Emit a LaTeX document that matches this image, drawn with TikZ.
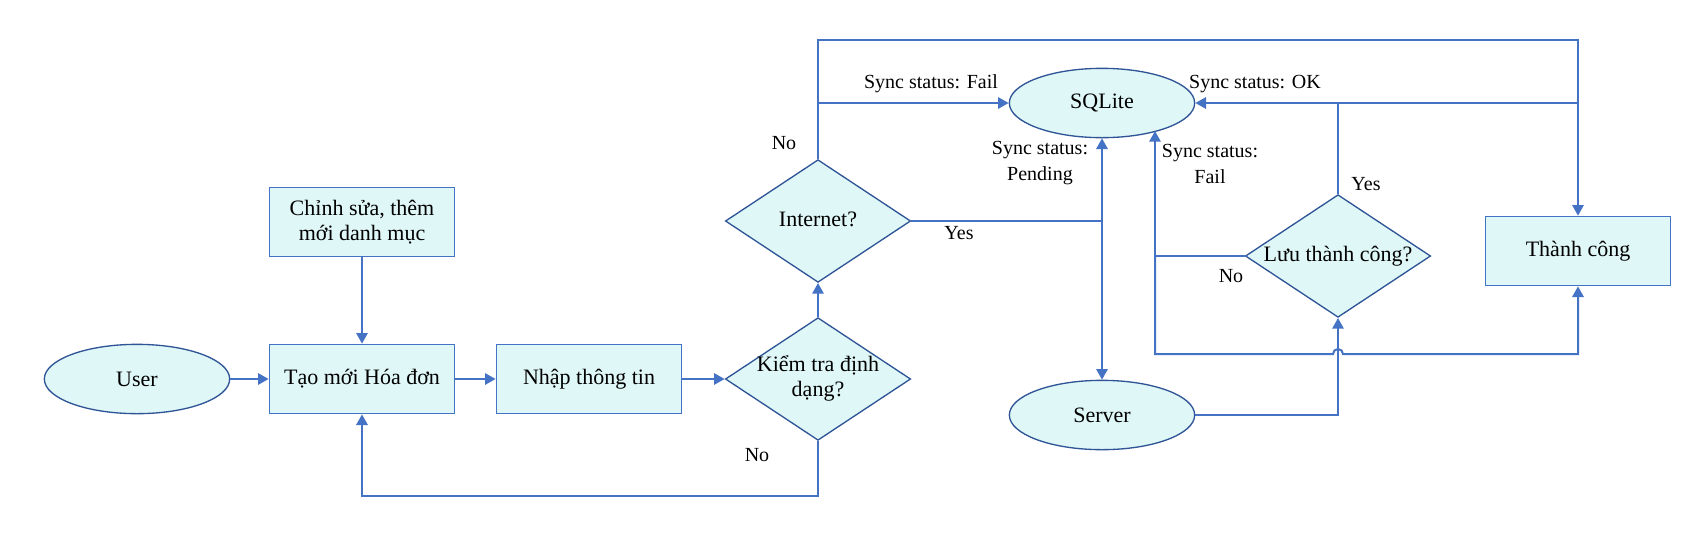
\documentclass[tikz,border=0pt]{standalone}
\usepackage{fontspec}
\setmainfont{Liberation Serif}
\usetikzlibrary{shapes.geometric,arrows.meta}

\definecolor{linkblue}{RGB}{68,114,196}
\definecolor{darkrim}{RGB}{47,85,151}
\definecolor{paleaqua}{RGB}{224,247,247}

\newcommand{\diatext}[1]{\makebox[0pt]{\begin{tabular}{@{}c@{}}#1\end{tabular}}}

\tikzset{every picture/.style={line width=0.75pt}}
\tikzset{
  procbox/.style={draw=linkblue, line width=1pt, fill=paleaqua, minimum width=139pt, minimum height=52pt, align=center, font=\fontsize{16.5}{19}\selectfont},
  termoval/.style={ellipse, draw=darkrim, line width=1pt, fill=paleaqua, minimum width=139pt, minimum height=52pt, font=\fontsize{16.5}{19}\selectfont},
  decide/.style={diamond, draw=darkrim, line width=1pt, fill=paleaqua, minimum width=139pt, minimum height=92pt, inner sep=0pt, font=\fontsize{16.5}{19}\selectfont},
  conn/.style={draw=linkblue, line width=1.5pt},
  tip/.style={-{Triangle[length=8pt,width=8.5pt]}},
  flowlabel/.style={inner sep=0pt, align=center, font=\fontsize{15}{19}\selectfont},
}

\begin{document}
\begin{tikzpicture}[x=0.75pt,y=0.75pt,yscale=-1,xscale=1]
	\useasboundingbox (0,0) rectangle (1708,544);

	%Shape: Ellipse [id:user]
	\node [termoval] (user) at (137,379) {User};
	%Shape: Rectangle [id:tao]
	\node [procbox] (tao) at (362,379) {Tạo mới Hóa đơn};
	%Shape: Rectangle [id:chinh]
	\node [procbox] (chinh) at (362,222) {Chỉnh sửa, thêm\\mới danh mục};
	%Shape: Rectangle [id:nhap]
	\node [procbox] (nhap) at (589,379) {Nhập thông tin};
	%Shape: Diamond [id:kiem]
	\node [decide] (kiem) at (818,379) {\diatext{Kiểm tra định\\dạng?}};
	%Shape: Diamond [id:inet]
	\node [decide] (inet) at (818,221) {\diatext{Internet?}};
	%Shape: Ellipse [id:sqlite]
	\node [termoval] (sqlite) at (1102,103) {SQLite};
	%Shape: Ellipse [id:server]
	\node [termoval] (server) at (1102,415) {Server};
	%Shape: Diamond [id:luu]
	\node [decide] (luu) at (1338,256) {\diatext{Lưu thành công?}};
	%Shape: Rectangle [id:thanh]
	\node [procbox] (thanh) at (1578,251) {Thành công};

	% corner points
	\coordinate (toprow) at (818,40);
	\coordinate (nobase) at (818,496);
	\coordinate (yesfork) at (1102,221);
	\coordinate (failhit) at (1155,131);
	\coordinate (hop) at (1338,354);

	%Straight Lines [left part]
	\draw [conn,tip] (user) -- (tao);
	\draw [conn,tip] (chinh) -- (tao);
	\draw [conn,tip] (tao) -- (nhap);
	\draw [conn,tip] (nhap) -- (kiem);
	\draw [conn,tip] (kiem) -- (inet);
	\draw [conn,tip] (kiem.south) -- (nobase) -| (tao.south);

	%Straight Lines [internet]
	\draw [conn,tip] (inet.north) -- (toprow) -| (thanh.north);
	\draw [conn,tip] (inet.north |- sqlite.west) -- (sqlite.west);
	\draw [conn] (inet.east) -- (yesfork);
	\draw [conn,tip] (yesfork) -- (sqlite.south);
	\draw [conn,tip] (yesfork) -- (server.north);

	%Straight Lines [save check]
	\draw [conn,tip] (server.east) -| (luu.south);
	\draw [conn,tip] (luu.north) |- (sqlite.east);
	\draw [conn] (luu.north |- sqlite.east) -- (thanh.north |- sqlite.east);
	\draw [conn,tip] (luu.west) -| (failhit);
	\draw [conn,tip] (luu.west -| failhit) |- ([xshift=-3.75pt]hop) arc [start angle=180, end angle=360, radius=5] -| (thanh.south);

	% Text Node
	\node [flowlabel] (nofmt) at (757,455) {No};
	% Text Node
	\node [flowlabel] (nonet) at (784,143) {No};
	% Text Node
	\node [flowlabel] (failtxt) at (931,84) {Sync status: Fail};
	% Text Node
	\node [flowlabel] (yesnet) at (959,233) {Yes};
	% Text Node
	\node [flowlabel] (pendtxt) at (1040,163) {Sync status:\\Pending};
	% Text Node
	\node [flowlabel] (oktxt) at (1255,84) {Sync status: OK};
	% Text Node
	\node [flowlabel] (failtxt2) at (1210,164) {Sync status:\\Fail};
	% Text Node
	\node [flowlabel] (yessave) at (1366,184) {Yes};
	% Text Node
	\node [flowlabel] (nosave) at (1231,276) {No};

\end{tikzpicture}
\end{document}
